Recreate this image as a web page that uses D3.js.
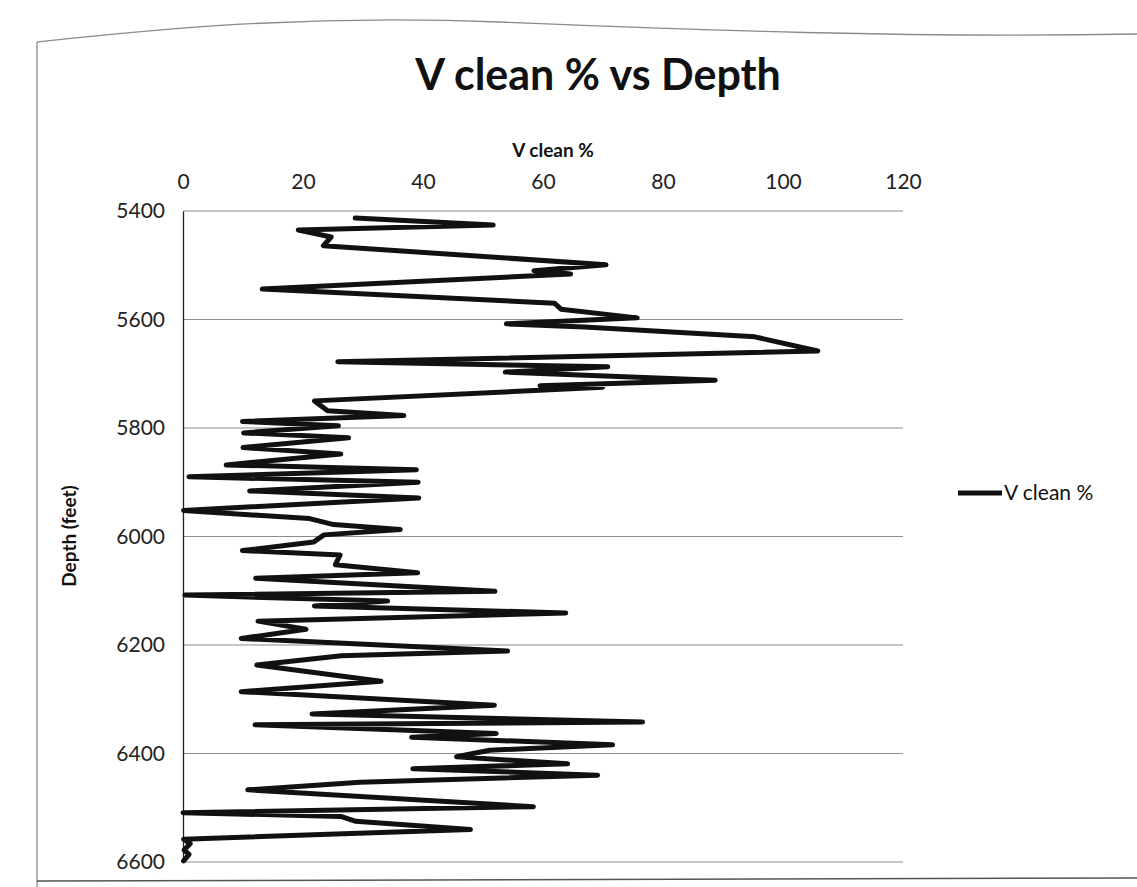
<!DOCTYPE html>
<html>
<head>
<meta charset="utf-8">
<script src="https://cdn.jsdelivr.net/npm/d3@7/dist/d3.min.js"></script>
<style>
  html, body { margin: 0; padding: 0; background: #fff; }
  svg { display: block; font-family: Lato, "Open Sans", "Liberation Sans", sans-serif; }
</style>
</head>
<body>
<svg id="chart" width="1137" height="887"></svg>
<script>
// ---- data ----
const depthFt = [5413, 5426, 5435, 5448, 5464, 5499, 5510, 5516, 5544, 5570, 5581, 5597, 5608, 5614, 5632, 5658,
  5678, 5687, 5697, 5712, 5722, 5725, 5750, 5768, 5777, 5788, 5796, 5809, 5818, 5836, 5848, 5868, 5877, 5890,
  5900, 5916, 5929, 5952, 5967, 5978, 5987, 5997, 6010, 6026, 6034, 6052, 6067, 6077, 6101, 6108, 6119, 6128,
  6141, 6156, 6171, 6188, 6211, 6220, 6237, 6267, 6286, 6311, 6327, 6342, 6347, 6363, 6370, 6384, 6394, 6406,
  6419, 6428, 6440, 6453, 6467, 6498, 6509, 6516, 6525, 6540, 6558, 6566, 6578, 6586, 6598];
const vClean = [28.7, 51.7, 19.2, 24.7, 23.4, 70.5, 58.5, 64.6, 13.2, 61.9, 63.0, 75.7, 53.9, 66.9, 95.3, 105.8,
  25.8, 70.8, 53.7, 88.7, 59.5, 69.9, 21.9, 24.1, 36.8, 9.9, 25.9, 10.1, 27.6, 10.0, 26.3, 7.2, 38.9, 1.0,
  39.2, 11.1, 39.3, 0.1, 21.1, 25.1, 36.2, 23.5, 21.8, 9.9, 26.2, 25.4, 39.1, 12.1, 52.0, 0.3, 34.1, 21.9,
  63.8, 12.5, 20.5, 9.7, 54.1, 26.4, 12.3, 33.0, 9.7, 51.9, 21.5, 76.6, 12.0, 52.2, 38.1, 71.6, 51.1, 45.6,
  64.1, 38.3, 69.1, 29.5, 10.8, 58.4, 0.0, 26.3, 28.8, 47.9, 0.1, 1.2, 0.2, 1.0, 0.1];
const xTicks = [0, 20, 40, 60, 80, 100, 120];
const yTicks = [5400, 5600, 5800, 6000, 6200, 6400, 6600];
const titleText = "V clean % vs Depth";
const xTitle = "V clean %";
const yTitle = "Depth (feet)";
const seriesName = "V clean %";

// ---- layout ----
const svg = d3.select("#chart");
const plot = { left: 183, right: 903, top: 211, bottom: 862 };

// paper / chart frame
svg.append("path")
  .attr("d", "M37,42 L37,887 M37,42 C150,30 300,14 500,22 S900,38 1137,34")
  .attr("fill", "none").attr("stroke", "#8a8a8a").attr("stroke-width", 1.3);
svg.append("line").attr("x1", 37).attr("x2", 1137).attr("y1", 881).attr("y2", 878)
  .attr("stroke", "#555").attr("stroke-width", 1.5);

const x = d3.scaleLinear().domain([0, 120]).range([plot.left, plot.right]);
const y = d3.scaleLinear().domain([5400, 6600]).range([plot.top, plot.bottom]);

// gridlines
svg.append("g").selectAll("line").data(yTicks).join("line")
  .attr("x1", plot.left).attr("x2", plot.right)
  .attr("y1", d => y(d)).attr("y2", d => y(d))
  .attr("stroke", "#8c8c8c").attr("stroke-width", 1.2);

// x axis (top)
const xAxis = d3.axisTop(x).tickValues(xTicks).tickSize(0).tickPadding(0).tickFormat(d3.format("d"));
const gx = svg.append("g").attr("transform", `translate(0,${plot.top - 22})`).call(xAxis);
gx.select(".domain").remove();
gx.selectAll("text").attr("font-size", 21).attr("fill", "#222").attr("font-family", "Lato, sans-serif");

// y axis (left)
const yAxis = d3.axisLeft(y).tickValues(yTicks).tickSize(0).tickPadding(18).tickFormat(d3.format("d"));
const gy = svg.append("g").attr("transform", `translate(${plot.left},0)`).call(yAxis);
gy.select(".domain").attr("stroke", "#222").attr("stroke-width", 1.3);
gy.selectAll("text").attr("font-size", 21).attr("fill", "#222").attr("font-family", "Lato, sans-serif");

// titles
svg.append("text").attr("x", 598).attr("y", 90).attr("text-anchor", "middle")
  .attr("font-size", 43).attr("font-weight", "bold").attr("fill", "#111").text(titleText);
svg.append("text").attr("x", 553).attr("y", 157).attr("text-anchor", "middle")
  .attr("font-size", 19).attr("font-weight", "bold").attr("fill", "#111").text(xTitle);
svg.append("text").attr("transform", "translate(76,536) rotate(-90)").attr("text-anchor", "middle")
  .attr("font-size", 19).attr("font-weight", "bold").attr("fill", "#111").text(yTitle);

// series line
const pts = depthFt.map((d, i) => ({ depth: d, v: vClean[i] }));
const line = d3.line().x(d => x(d.v)).y(d => y(d.depth)).curve(d3.curveLinear);
svg.append("path").datum(pts).attr("d", line)
  .attr("fill", "none").attr("stroke", "#111").attr("stroke-width", 5)
  .attr("stroke-linejoin", "round").attr("stroke-linecap", "round");

// legend
const lg = svg.append("g").attr("transform", "translate(958,493)");
lg.append("line").attr("x1", 0).attr("x2", 44).attr("y1", 0).attr("y2", 0)
  .attr("stroke", "#111").attr("stroke-width", 5);
lg.append("text").attr("x", 46).attr("y", 7).attr("font-size", 21).attr("fill", "#111").text(seriesName);
</script>
</body>
</html>
